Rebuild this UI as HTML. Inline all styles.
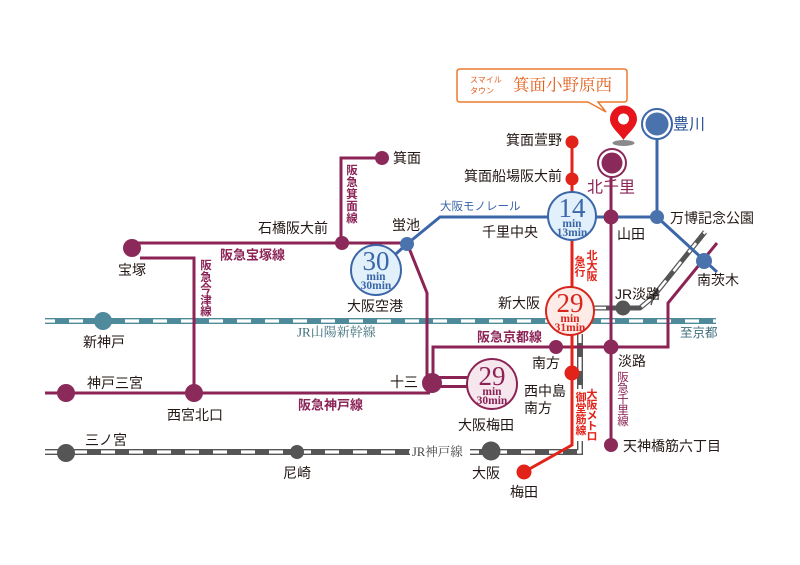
<!DOCTYPE html>
<html><head><meta charset="utf-8">
<style>
html,body{margin:0;padding:0;background:#fff;}
svg{display:block;}
text{font-family:"Liberation Sans","Noto Sans CJK JP",sans-serif;dominant-baseline:central;}
.l{font-size:14px;fill:#231815;}
.m{font-size:13px;fill:#8b2355;font-weight:bold;}
.v{font-size:11.5px;fill:#8b2355;text-anchor:middle;}
.r{font-size:11px;fill:#e2231a;font-weight:bold;text-anchor:middle;}
.sf{font-family:"Liberation Serif","Noto Serif CJK JP",serif;}
.big{font-family:"Liberation Serif",serif;font-size:27px;text-anchor:middle;}
.mn{font-family:"Liberation Serif",serif;font-size:11.5px;font-weight:bold;text-anchor:middle;}
</style></head><body>
<svg width="800" height="565" viewBox="0 0 800 565" xmlns="http://www.w3.org/2000/svg">
<rect width="800" height="565" fill="#fff"/>

<!-- Shinkansen -->
<path d="M45,321 H716" stroke="#4e8a9a" stroke-width="6" fill="none"/>
<path d="M45,321 H716" stroke="#fff" stroke-width="3.2" stroke-dasharray="14 14" stroke-dashoffset="4" fill="none"/>

<!-- JR Kobe line + to Shin-Osaka -->
<path d="M45,452 H580 V334" stroke="#555" stroke-width="6" fill="none"/>
<path d="M45,452 H580 V334" stroke="#fff" stroke-width="3.2" stroke-dasharray="14 14" fill="none"/>
<!-- JR toward Awaji / Kyoto -->
<path d="M594,308 H640 L652,298 L705,232" stroke="#555" stroke-width="5" fill="none" stroke-linejoin="round"/>
<path d="M594,308 H640 L652,298 L705,232" stroke="#fff" stroke-width="2.6" stroke-dasharray="12 12" fill="none" stroke-linejoin="round"/>
<path d="M646,297 L653,298 L651,305" stroke="#555" stroke-width="1.5" fill="none"/>

<!-- Hankyu lines -->
<g stroke="#8b2355" stroke-width="3" fill="none">
<path d="M132,243 H407 L427,293 V383"/>
<path d="M341,243 V158 H382"/>
<path d="M140,258 H194 V393"/>
<path d="M45,393 H430"/>
<path d="M433,383 V347 H668 V303 L717,243"/>
<path d="M432,377.5 H470"/>
<path d="M432,386.5 H470"/>
<path d="M611,163 V445"/>
</g>

<!-- Monorail -->
<g stroke="#3b66a8" stroke-width="3" fill="none">
<path d="M407,244 L440,217 H657 V124"/>
<path d="M657,217 L717,272"/>
<path d="M407,244 L380,268"/>
</g>

<!-- Midosuji -->
<path d="M572,142 V445 L524,472" stroke="#e2231a" stroke-width="3" fill="none"/>

<!-- Big time circles -->
<circle cx="376" cy="270" r="25" fill="#e1f0fa" stroke="#3b66a8" stroke-width="2"/>
<text class="big" x="376" y="261" fill="#3b66a8">30</text>
<text class="mn" x="376" y="277" fill="#3b66a8">min</text>
<text class="mn" x="376" y="286" fill="#3b66a8">30min</text>

<circle cx="572" cy="216" r="24" fill="#e1f0fa" stroke="#3b66a8" stroke-width="2"/>
<text class="big" x="572" y="208" fill="#3b66a8">14</text>
<text class="mn" x="572" y="224" fill="#3b66a8">min</text>
<text class="mn" x="572" y="233" fill="#3b66a8">13min</text>

<circle cx="570" cy="311" r="24" fill="#fdebe8" stroke="#d8261d" stroke-width="2"/>
<text class="big" x="570" y="303" fill="#d8261d">29</text>
<text class="mn" x="570" y="319" fill="#d8261d">min</text>
<text class="mn" x="570" y="328" fill="#d8261d">31min</text>

<circle cx="492" cy="384" r="25" fill="#f6e6ee" stroke="#8b2355" stroke-width="2"/>
<text class="big" x="492" y="376" fill="#8b2355">29</text>
<text class="mn" x="492" y="392" fill="#8b2355">min</text>
<text class="mn" x="492" y="401" fill="#8b2355">30min</text>

<!-- Hankyu nodes -->
<g fill="#8b2a5a">
<circle cx="132" cy="248" r="9"/>
<circle cx="342" cy="243" r="7"/>
<circle cx="382" cy="158" r="7"/>
<circle cx="194" cy="393" r="9"/>
<circle cx="66" cy="393" r="9"/>
<circle cx="432" cy="383" r="10"/>
<circle cx="611" cy="217" r="7.5"/>
<circle cx="556" cy="347" r="7"/>
<circle cx="611" cy="347" r="7.5"/>
<circle cx="611" cy="445" r="7"/>
</g>
<circle cx="612" cy="163" r="14" fill="#fff" stroke="#8b2a5a" stroke-width="2"/>
<circle cx="612" cy="163" r="10.5" fill="#8b2a5a"/>

<!-- Blue nodes -->
<g fill="#4a72ad">
<circle cx="407" cy="244" r="7"/>
<circle cx="657" cy="217" r="7"/>
<circle cx="704" cy="261" r="8"/>
</g>
<circle cx="657" cy="124" r="15" fill="#fff" stroke="#3b66a8" stroke-width="2"/>
<circle cx="657" cy="124" r="11.5" fill="#4a72ad"/>

<!-- Teal / grey nodes -->
<circle cx="103" cy="321" r="9" fill="#4f8b9c"/>
<g fill="#555">
<circle cx="66" cy="453" r="9"/>
<circle cx="297" cy="452" r="7"/>
<circle cx="491" cy="451" r="9.5"/>
<circle cx="623" cy="308" r="7.5"/>
</g>

<!-- Red nodes -->
<g fill="#e2231a">
<circle cx="572" cy="142" r="6.5"/>
<circle cx="572" cy="179" r="6.5"/>
<circle cx="572" cy="373" r="7.5"/>
<circle cx="524" cy="472" r="7.5"/>
</g>

<!-- Pin -->
<ellipse cx="623.5" cy="143" rx="11" ry="3" fill="#8a8a8a"/>
<path d="M623.5,140 C618,132 610,127 610,119 A13.5,13.5 0 1 1 637,119 C637,127 629,132 623.5,140 Z" fill="#e8141b"/>
<circle cx="623.5" cy="119" r="5.5" fill="#fff"/>

<!-- Balloon -->
<path d="M460,69 H624 Q627,69 627,72 V99 Q627,102 624,102 H598 L606,112 L588,102 H460 Q457,102 457,99 V72 Q457,69 460,69 Z" fill="#fff" stroke="#ec7a2e" stroke-width="1.5"/>
<text x="470" y="80" font-size="8" fill="#e45f1c">スマイル</text>
<text x="470" y="91" font-size="8" fill="#e45f1c">タウン</text>
<text class="sf" x="513" y="85" font-size="16.5" fill="#e45f1c">箕面小野原西</text>

<!-- JR Kobe label bg -->
<rect x="410" y="445" width="60" height="14" fill="#fff"/>
<text class="sf" x="412" y="452" font-size="12.5" fill="#444">JR神戸線</text>

<!-- Labels -->
<text class="l" x="393" y="158">箕面</text>
<text class="l" x="328" y="228" text-anchor="end">石橋阪大前</text>
<text class="l" x="118" y="270">宝塚</text>
<text class="m" x="220" y="255">阪急宝塚線</text>
<text class="l" x="392" y="225">蛍池</text>
<text class="l" x="347" y="306" font-size="15">大阪空港</text>
<text x="440" y="207" font-size="11.5" fill="#3b66a8">大阪モノレール</text>
<text class="l" x="482" y="232" font-size="15">千里中央</text>
<text class="l" x="562" y="140" text-anchor="end">箕面萱野</text>
<text class="l" x="562" y="176" text-anchor="end">箕面船場阪大前</text>
<text x="587" y="188" font-size="16" fill="#8b2355">北千里</text>
<text x="673" y="125" font-size="16" fill="#2c5496">豊川</text>
<text class="l" x="617" y="234">山田</text>
<text class="l" x="670" y="218">万博記念公園</text>
<text class="l" x="697" y="280">南茨木</text>
<text class="l" x="615" y="294">JR淡路</text>
<text class="l" x="498" y="303" font-size="15">新大阪</text>
<text class="m" x="477" y="337">阪急京都線</text>
<text x="680" y="333" font-size="12.5" fill="#3f6e7c">至京都</text>
<text class="l" x="390" y="382">十三</text>
<text class="l" x="532" y="363">南方</text>
<text class="l" x="618" y="361">淡路</text>
<text class="l" x="524" y="391" font-size="14.5">西中島</text>
<text class="l" x="524" y="408" font-size="14.5">南方</text>
<text class="l" x="458" y="425" font-size="15">大阪梅田</text>
<text class="l" x="623" y="446" font-size="14.5">天神橋筋六丁目</text>
<text class="l" x="87" y="383">神戸三宮</text>
<text class="l" x="83" y="342">新神戸</text>
<text class="l" x="167" y="415">西宮北口</text>
<text class="m" x="298" y="405">阪急神戸線</text>
<text class="sf" x="297" y="332" font-size="13" fill="#3f6e7c">JR山陽新幹線</text>
<text class="l" x="85" y="440">三ノ宮</text>
<text class="l" x="283" y="473">尼崎</text>
<text class="l" x="472" y="473">大阪</text>
<text class="l" x="510" y="492">梅田</text>

<!-- Vertical labels -->
<text class="v" font-weight="bold"><tspan x="352" y="171">阪</tspan><tspan x="352" y="183">急</tspan><tspan x="352" y="195">箕</tspan><tspan x="352" y="207">面</tspan><tspan x="352" y="219">線</tspan></text>
<text class="v" font-weight="bold"><tspan x="206" y="266">阪</tspan><tspan x="206" y="278">急</tspan><tspan x="206" y="289.5">今</tspan><tspan x="206" y="301">津</tspan><tspan x="206" y="312">線</tspan></text>
<text class="v"><tspan x="623" y="378">阪</tspan><tspan x="623" y="389">急</tspan><tspan x="623" y="400">千</tspan><tspan x="623" y="411">里</tspan><tspan x="623" y="422">線</tspan></text>
<text class="r"><tspan x="592" y="256">北</tspan><tspan x="592" y="266.5">大</tspan><tspan x="592" y="277">阪</tspan></text>
<text class="r"><tspan x="580" y="262">急</tspan><tspan x="580" y="272.5">行</tspan></text>
<rect x="575" y="389" width="24" height="52" fill="#fff"/>
<text class="r"><tspan x="592" y="395">大</tspan><tspan x="592" y="405.5">阪</tspan><tspan x="592" y="416">メ</tspan><tspan x="592" y="426.5">ト</tspan><tspan x="592" y="437">ロ</tspan></text>
<text class="r"><tspan x="581" y="398">御</tspan><tspan x="581" y="409">堂</tspan><tspan x="581" y="420">筋</tspan><tspan x="581" y="431">線</tspan></text>
</svg>
</body></html>
